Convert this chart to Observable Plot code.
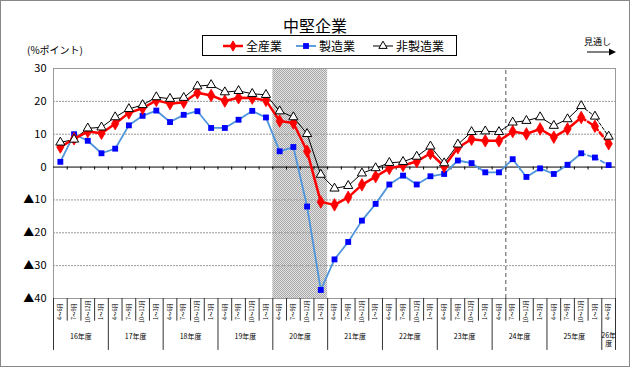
<!DOCTYPE html>
<html><head><meta charset="utf-8">
<script src="https://cdn.jsdelivr.net/npm/d3@7"></script>
<script src="https://cdn.jsdelivr.net/npm/@observablehq/plot@0.6"></script>
<style>
body{margin:0;background:#fff;}
#wrap{position:relative;width:630px;height:367px;font-family:"Noto Sans CJK JP",sans-serif;color:#000;overflow:hidden;}
#chart{position:absolute;left:0;top:0;}
#border{position:absolute;left:0;top:0;width:628px;height:365px;border:1px solid #888;pointer-events:none;}
#title{position:absolute;left:0;top:15px;width:630px;text-align:center;font-size:16px;line-height:20px;}
#legend{position:absolute;left:202px;top:35px;width:253px;height:19px;border:1px solid #000;background:#fff;}
.item{position:absolute;top:0;height:19px;display:flex;align-items:center;font-size:12px;line-height:19px;}
.item svg{margin-right:3px;}
#unit{position:absolute;left:27px;top:43px;font-size:10px;line-height:14px;}
#outlook{position:absolute;left:584px;top:35px;font-size:9px;line-height:13px;}
#arrow{position:absolute;left:584px;top:47px;}
</style>
</head><body>
<div id="wrap">
  <div id="chart"></div>
  <div id="title">中堅企業</div>
  <div id="legend"></div>
  <div id="unit">(%ポイント)</div>
  <div id="outlook">見通し</div>
  <svg id="arrow" width="34" height="10"><line x1="3" y1="5" x2="26" y2="5" stroke="#000" stroke-width="1"/><path d="M25,1.5 L32,5 L25,8.5 Z" fill="#000"/></svg>
  <div id="border"></div>
</div>
<script>
// ---- data ----
const quarters = ["4～6月", "7～9月", "10～12月", "1～3月"];
const years = ["16年度", "17年度", "18年度", "19年度", "20年度", "21年度", "22年度", "23年度", "24年度", "25年度", "26年度"];
const seriesNames = ["全産業", "製造業", "非製造業"];
const allIndustries = [6.1, 8.6, 10.8, 10.3, 13.2, 16.5, 17.9, 20.3, 19.3, 19.7,
  22.6, 21.8, 20.1, 21.1, 21.0, 20.3, 14.0, 13.4, 4.8, -10.6,
  -11.5, -9.2, -5.4, -2.9, -0.4, 0.5, 1.7, 4.2, 0.2, 5.9,
  8.5, 8.0, 8.0, 10.8, 10.1, 11.6, 9.1, 11.6, 15.1, 12.4, 7.1];
const manufacturing = [1.6, 10.0, 8.0, 4.2, 5.6, 12.7, 15.6, 17.2, 13.7, 15.9,
  17.0, 11.9, 11.9, 14.4, 17.1, 15.1, 4.8, 6.1, -12.0, -37.4,
  -28.1, -22.8, -16.3, -11.2, -5.3, -2.6, -5.3, -2.8, -2.1, 2.0,
  1.2, -1.6, -1.6, 2.4, -3.0, -0.4, -2.1, 0.7, 4.2, 2.9, 0.6];
const nonManufacturing = [7.5, 8.4, 11.8, 12.1, 15.2, 17.7, 18.9, 21.3, 20.8, 21.1,
  24.6, 25.0, 22.8, 23.2, 22.3, 22.0, 17.0, 15.2, 10.1, -2.3,
  -6.5, -5.7, -1.9, -0.3, 1.3, 1.6, 3.2, 6.3, 1.2, 6.9,
  10.7, 10.9, 10.7, 13.6, 14.1, 15.2, 12.6, 14.6, 18.6, 15.4, 9.3];
const forecastCount = 2;          // last points are forecasts (dashed)
const shadedYear = "20年度";       // shaded period
const dividerAfter = 33;          // dashed vertical divider position (category index)
const yTicks = [-40, -30, -20, -10, 0, 10, 20, 30];

// ---- build ----
const N = allIndustries.length;
const rows = d3.range(N).map(i => ({
  i, x: i + 0.5, q: quarters[i % 4],
  all: allIndustries[i], mfg: manufacturing[i], non: nonManufacturing[i]
}));
const lastSolid = N - 1 - forecastCount;
const solid = rows.filter(d => d.i <= lastSolid);
const dashed = rows.filter(d => d.i >= lastSolid);
const shadeStart = years.indexOf(shadedYear) * 4;
const yearRows = years.map((y, k) => {
  const start = k * 4, end = Math.min(N, start + 4);
  return {label: y, x: (start + end) / 2, short: end - start < 4};
});
const fullYears = yearRows.filter(d => !d.short);
const shortYears = yearRows.filter(d => d.short);
const bounds = d3.range(0, N + 1);
const longBounds = bounds.filter(d => d % 4 === 0 || d === N);
const shortBounds = bounds.filter(d => !(d % 4 === 0 || d === N));

const RED = "#ff0000", BLUE = "#4f95dc", BLUEM = "#0000ff";
const font = "'Noto Sans CJK JP', sans-serif";

const chart = Plot.plot({
  width: 630, height: 367,
  marginLeft: 53, marginRight: 15, marginTop: 68, marginBottom: 69,
  x: {domain: [0, N], axis: null},
  y: {domain: [-40, 30], axis: null},
  style: {fontFamily: font, background: "transparent", color: "#000", overflow: "visible"},
  marks: [
    Plot.rect([{x1: shadeStart, x2: shadeStart + 4}], {x1: "x1", x2: "x2", y1: -40, y2: 30, fill: "url(#shadepat)"}),
    Plot.ruleY(yTicks.filter(t => t !== 0 && t !== -40 && t !== 30), {stroke: "#999", strokeDasharray: "2,1"}),
    Plot.ruleX([dividerAfter], {y1: -40, y2: 30, stroke: "#555", strokeDasharray: "4,3"}),
    Plot.frame({stroke: "#999"}),
    Plot.ruleY([0], {stroke: "#000"}),
    Plot.ruleX(bounds.slice(1, -1), {y1: 0, y2: -0.9, stroke: "#000"}),
    Plot.ruleX(shortBounds, {y1: -40, y2: -46.9, stroke: "#333"}),
    Plot.ruleX(longBounds, {y1: -40, y2: -55.8, stroke: "#333"}),
    Plot.axisY({ticks: yTicks, tickSize: 0, tickPadding: 7, fontSize: 11,
      tickFormat: d => d < 0 ? "▲" + (-d) : String(d)}),
    Plot.text(rows, {x: "x", y: -40, text: "q", rotate: -90, dy: 13, fontSize: 5.5, fill: "#000"}),
    Plot.text(fullYears, {x: "x", y: -40, text: "label", dy: 38, fontSize: 7, fill: "#000"}),
    Plot.text(shortYears, {x: "x", y: -40, text: d => d.label.slice(0, -1), dy: 37, fontSize: 7, fill: "#000"}),
    Plot.text(shortYears, {x: "x", y: -40, text: d => d.label.slice(-1), dy: 45.5, fontSize: 7, fill: "#000"}),
    // 非製造業
    Plot.line(solid, {x: "x", y: "non", stroke: "#000", strokeWidth: 1}),
    Plot.line(dashed, {x: "x", y: "non", stroke: "#000", strokeWidth: 1, strokeDasharray: "3,2"}),
    // 製造業
    Plot.line(solid, {x: "x", y: "mfg", stroke: BLUE, strokeWidth: 1.8}),
    Plot.line(dashed, {x: "x", y: "mfg", stroke: BLUE, strokeWidth: 1.8, strokeDasharray: "4,3"}),
    Plot.dot(rows, {x: "x", y: "mfg", symbol: "square", r: 3.3, fill: BLUEM, stroke: "none"}),
    // 全産業
    Plot.line(solid, {x: "x", y: "all", stroke: RED, strokeWidth: 2.5}),
    Plot.line(dashed, {x: "x", y: "all", stroke: RED, strokeWidth: 2.5, strokeDasharray: "5,3"}),
    Plot.dot(rows, {x: "x", y: "all", symbol: "diamond", r: 3.8, fill: RED, stroke: RED, strokeWidth: 0.8}),
    Plot.dot(rows, {x: "x", y: "non", symbol: "triangle", r: 3.4, fill: "#fff", stroke: "#000", strokeWidth: 1})
  ]
});
// checkered fill pattern for the shaded period
const ns = "http://www.w3.org/2000/svg";
const defs = document.createElementNS(ns, "defs");
defs.innerHTML = `<pattern id="shadepat" width="2" height="2" patternUnits="userSpaceOnUse">
  <rect width="2" height="2" fill="#e2e2e2"/><rect width="1" height="1" fill="#a8a8a8"/><rect x="1" y="1" width="1" height="1" fill="#a8a8a8"/></pattern>`;
chart.insertBefore(defs, chart.firstChild);
document.getElementById("chart").appendChild(chart);

// ---- legend ----
const legend = document.getElementById("legend");
const legendDefs = [
  {name: seriesNames[0], left: 20, stroke: RED, sw: 2.5, sym: d3.symbolDiamond, size: 30, fill: RED, mstroke: RED},
  {name: seriesNames[1], left: 93, stroke: BLUE, sw: 1.8, sym: d3.symbolSquare, size: 34, fill: BLUEM, mstroke: "none"},
  {name: seriesNames[2], left: 170, stroke: "#000", sw: 1, sym: d3.symbolTriangle, size: 30, fill: "#fff", mstroke: "#000"}
];
legendDefs.forEach(d => {
  const div = document.createElement("div");
  div.className = "item";
  div.style.left = d.left + "px";
  const path = d3.symbol(d.sym, d.size)();
  div.innerHTML = `<svg width="20" height="12"><line x1="0" y1="6" x2="20" y2="6" stroke="${d.stroke}" stroke-width="${d.sw}"/>` +
    `<path transform="translate(10,6)" d="${path}" fill="${d.fill}" stroke="${d.mstroke}"/></svg><span>${d.name}</span>`;
  legend.appendChild(div);
});
</script>
</body></html>
